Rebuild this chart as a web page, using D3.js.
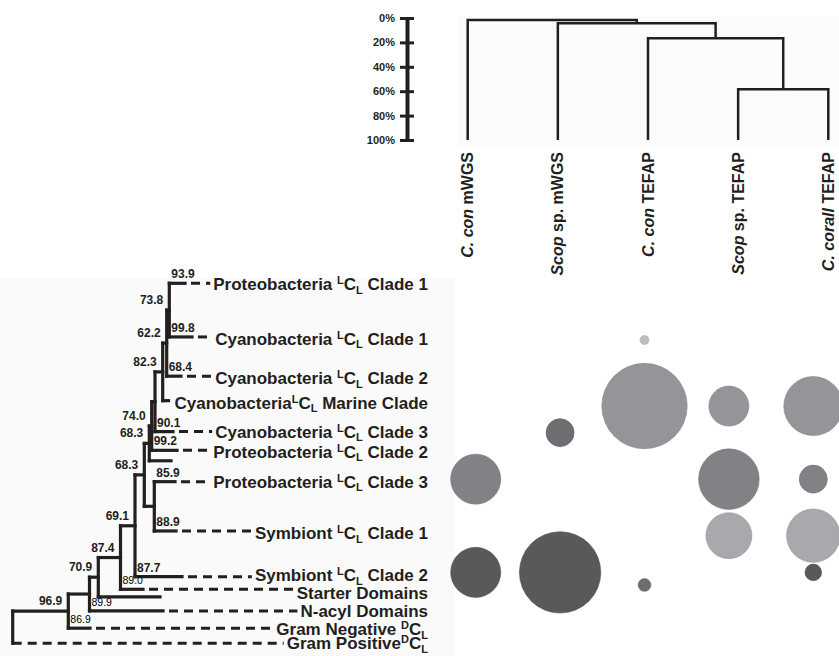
<!DOCTYPE html>
<html>
<head>
<meta charset="utf-8">
<script src="https://cdn.jsdelivr.net/npm/d3@7"></script>
<style>
  body { margin: 0; background: #fff; }
  svg text { font-family: "Liberation Sans", Arial, Helvetica, sans-serif; font-weight: bold; fill: #231f20; }
</style>
</head>
<body>
<div id="chart"></div>
<script>
let width = 839;
let height = 656;
let ink = "#231f20";

// ---- sample dendrogram (top right) ----
let sampleItalic = ["C. con", "Scop", "C. con", "Scop", "C. corall"];
let sampleRest = [" mWGS", " sp. mWGS", " TEFAP", " sp. TEFAP", " TEFAP"];
// [left cluster, right cluster, height in %]; new clusters get ids 5,6,7,8
let merges = [[3, 4, 58.4], [2, 5, 16.6], [1, 6, 4.3], [0, 7, 1.6]];
let scaleTicks = [0, 20, 40, 60, 80, 100];

// ---- phylogenetic tree (left) ----
// [node id, parent id, branch length]
let treeNodes = [
  ["root", null, 0],
  ["n969", "root", 27.8],
  ["gramPos", "root", 0],
  ["nB", "n969", 10.6],
  ["gramNeg", "n969", 10.85],
  ["n709", "nB", 4.4],
  ["nacyl", "nB", 36.75],
  ["n874", "n709", 11.1],
  ["u2", "n709", 30.85],
  ["n691", "n874", 7.25],
  ["starter", "n874", 11.25],
  ["n683b", "n691", 4.65],
  ["sym2", "n691", 23.5],
  ["n683a", "n683b", 2.5],
  ["nF", "n683b", 5],
  ["prot3", "nF", 10.35],
  ["sym1", "nF", 10.85],
  ["n740", "n683a", 1.2],
  ["u1", "n683a", 10.85],
  ["nS", "n740", 1.65],
  ["prot2", "n740", 12.65],
  ["n823", "nS", 3.85],
  ["cyan3", "nS", 9],
  ["n622", "n823", 2],
  ["marine", "n823", 2.9],
  ["n738", "n622", 1.3],
  ["cyan2", "n622", 7.15],
  ["prot1", "n738", 7.85],
  ["cyan1", "n738", 11.35]
];

let leafIds = ["prot1", "cyan1", "cyan2", "marine", "cyan3", "prot2", "u1", "prot3",
               "sym1", "sym2", "starter", "u2", "nacyl", "gramNeg", "gramPos"];
// row of each leaf branch, and row of its label text
let leafRows = [0, 14.9, 25.8, 32.6, 41.2, 46.4, 49.3, 55.1, 68.8, 81.5, 85.0, 87.1, 91.0, 95.8, 100];
let labelRows = [0.2, 15.3, 26.3, 33.2, 41.2, 46.8, 49.3, 55.1, 69.4, 81.0, 85.9, 87.1, 90.9, 96.0, 100.0];
// label pieces: [before, superscript, middle, subscript, after]
let leafLabels = [
  ["Proteobacteria ", "L", "C", "L", " Clade 1"],
  ["Cyanobacteria ", "L", "C", "L", " Clade 1"],
  ["Cyanobacteria ", "L", "C", "L", " Clade 2"],
  ["Cyanobacteria", "L", "C", "L", " Marine Clade"],
  ["Cyanobacteria ", "L", "C", "L", " Clade 3"],
  ["Proteobacteria ", "L", "C", "L", " Clade 2"],
  null,
  ["Proteobacteria ", "L", "C", "L", " Clade 3"],
  ["Symbiont ", "L", "C", "L", " Clade 1"],
  ["Symbiont ", "L", "C", "L", " Clade 2"],
  ["Starter Domains"],
  null,
  ["N-acyl Domains"],
  ["Gram Negative ", "D", "C", "L", ""],
  ["Gram Positive", "D", "C", "L", ""]
];

// support values written left of an internal node
let nodeSupportIds = ["n969", "n709", "n874", "n691", "n683b", "n683a", "n740", "n823", "n622", "n738"];
let nodeSupport = [96.9, 70.9, 87.4, 69.1, 68.3, 68.3, 74.0, 82.3, 62.2, 73.8];
// support values written over a terminal branch
let branchSupportIds = ["prot1", "cyan1", "cyan2", "cyan3", "prot2", "prot3", "sym1", "sym2", "starter", "nacyl", "gramNeg"];
let branchSupport = [93.9, 99.8, 68.4, 90.1, 99.2, 85.9, 88.9, 87.7, 89.0, 89.9, 86.9];
let smallSupport = ["starter", "nacyl", "gramNeg"];

// ---- bubbles (relative abundance per clade row and sample) ----
let bubbleRows = [15.75, 34.1, 41.5, 54.4, 70.1, 80.3, 83.8];
let bubbleShades = ["#bcbec0", "#939598", "#6d6e71", "#808285", "#a7a9ac", "#58595b", "#6d6e71"];
let bubbleValues = [
  [0, 0, 1.0, 0, 0],
  [0, 0, 90, 19.8, 43],
  [0, 9.7, 0, 0, 0],
  [30.9, 0, 0, 45.3, 9.7],
  [0, 0, 0, 26.1, 35.2],
  [30.9, 81.8, 0, 0, 3.4],
  [0, 0, 2.0, 0, 0]
];

let svg = d3.select("#chart").append("svg")
  .attr("width", width)
  .attr("height", height);

// faint panel backgrounds
svg.append("rect").attr("x", 0).attr("y", 278).attr("width", 455).attr("height", 378).attr("fill", "#fafafa");
svg.append("rect").attr("x", 458).attr("y", 17).attr("width", 381).attr("height", 131).attr("fill", "#fbfbfb");

//scales
let yPct = d3.scaleLinear().domain([0, 100]).range([18, 140]);
let xSample = d3.scalePoint().domain(d3.range(sampleItalic.length)).range([467.7, 828.3]);
let xTree = d3.scaleLinear().domain([0, 100]).range([12.7, 212.7]);
let yRow = d3.scaleLinear().domain([0, 100]).range([283.3, 643.3]);
let xBubble = d3.scalePoint().domain(d3.range(sampleItalic.length)).range([475.7, 813.3]);
let rBubble = d3.scaleSqrt().domain([0, 100]).range([0, 45]);

// similarity axis
let pctAxis = d3.axisLeft(yPct)
  .tickValues(scaleTicks)
  .tickFormat(d => d + "%")
  .tickSize(7)
  .tickSizeOuter(0)
  .tickPadding(5);

let axisG = svg.append("g")
  .attr("transform", "translate(407,0)")
  .call(pctAxis);
axisG.select(".domain").attr("stroke", ink).attr("stroke-width", 4);
axisG.selectAll(".tick line").attr("x1", 7).attr("stroke", ink).attr("stroke-width", 3);
axisG.selectAll(".tick text")
  .attr("font-size", 11)
  .style("font-family", '"Liberation Sans", Arial, sans-serif')
  .style("font-weight", "bold");

// dendrogram
let clusters = sampleItalic.map((s, i) => ({ x: xSample(i), y: yPct(100) }));
let dendro = svg.append("g")
  .attr("fill", "none")
  .attr("stroke", ink)
  .attr("stroke-width", 2.5);
merges.forEach(m => {
  let a = clusters[m[0]], b = clusters[m[1]];
  let h = yPct(m[2]);
  clusters.push({ x: (a.x + b.x) / 2, y: h });
  dendro.append("path").attr("d", `M${a.x},${a.y}V${h}H${b.x}V${b.y}`);
});

// sample labels (rotated)
sampleItalic.forEach((s, i) => {
  let t = svg.append("text")
    .attr("transform", `translate(${xSample(i) + 5.5},152) rotate(-90)`)
    .attr("text-anchor", "end")
    .attr("font-size", 16);
  t.append("tspan").attr("font-style", "italic").text(s);
  t.append("tspan").text(sampleRest[i]);
});

// tree layout
let root = d3.stratify()
  .id(d => d[0])
  .parentId(d => d[1])(treeNodes);

root.eachBefore(n => {
  n.dist = n.parent ? n.parent.dist + n.data[2] : 0;
  n.px = xTree(n.dist);
});
root.eachAfter(n => {
  if (n.children) n.py = d3.mean(n.children, c => c.py);
  else n.py = yRow(leafRows[leafIds.indexOf(n.id)]);
});

let treeG = svg.append("g")
  .attr("stroke", ink)
  .attr("stroke-width", 3.2)
  .attr("stroke-linecap", "square")
  .attr("fill", "none");

root.descendants().forEach(n => {
  if (n.parent && n.px > n.parent.px) {
    treeG.append("line")
      .attr("x1", n.parent.px).attr("x2", n.px)
      .attr("y1", n.py).attr("y2", n.py);
  }
  if (n.children) {
    treeG.append("line")
      .attr("x1", n.px).attr("x2", n.px)
      .attr("y1", d3.min(n.children, c => c.py))
      .attr("y2", d3.max(n.children, c => c.py));
  }
});

// leaf labels and dashed guides
let labelG = svg.append("g");
root.leaves().forEach(n => {
  let k = leafIds.indexOf(n.id);
  let parts = leafLabels[k];
  if (!parts) return;
  let t = labelG.append("text")
    .attr("x", 428)
    .attr("y", yRow(labelRows[k]))
    .attr("dy", "0.36em")
    .attr("text-anchor", "end")
    .attr("font-size", 17);
  t.append("tspan").text(parts[0]);
  if (parts.length > 1) {
    t.append("tspan").attr("font-size", 11).attr("dy", -6).text(parts[1]);
    t.append("tspan").attr("dy", 6).text(parts[2]);
    t.append("tspan").attr("font-size", 11).attr("dy", 3.5).text(parts[3]);
    t.append("tspan").attr("dy", -3.5).text(parts[4]);
  }
  let box = t.node().getBBox();
  labelG.append("line")
    .attr("x1", n.px).attr("x2", box.x - 3)
    .attr("y1", n.py).attr("y2", n.py)
    .attr("stroke", ink)
    .attr("stroke-width", 3)
    .attr("stroke-dasharray", "9,6")
    .attr("stroke-dashoffset", n.data[2] > 0 ? 9 : 0);
});

// support values
let nodeById = new Map(root.descendants().map(n => [n.id, n]));
nodeSupportIds.forEach((id, i) => {
  let n = nodeById.get(id);
  svg.append("text")
    .attr("x", n.px - 6)
    .attr("y", n.py - 6)
    .attr("text-anchor", "end")
    .attr("font-size", 12)
    .text(nodeSupport[i].toFixed(1));
});
branchSupportIds.forEach((id, i) => {
  let n = nodeById.get(id);
  let small = smallSupport.includes(id);
  svg.append("text")
    .attr("x", n.parent.px + 2)
    .attr("y", n.py - 5)
    .attr("font-size", small ? 10.5 : 12)
    .style("font-weight", small ? "normal" : "bold")
    .style("fill", small ? "#000" : null)
    .text(branchSupport[i].toFixed(1));
});

// bubbles
let bubbleData = [];
bubbleValues.forEach((row, r) => {
  row.forEach((v, c) => {
    if (v > 0) bubbleData.push({ row: r, col: c, value: v });
  });
});

svg.append("g")
  .selectAll("circle")
  .data(bubbleData)
  .join("circle")
  .attr("cx", d => xBubble(d.col))
  .attr("cy", d => yRow(bubbleRows[d.row]))
  .attr("r", d => rBubble(d.value))
  .attr("fill", d => bubbleShades[d.row])
  .attr("stroke", d => d3.color(bubbleShades[d.row]).darker(0.3))
  .attr("stroke-width", 0.6);
</script>
</body>
</html>
